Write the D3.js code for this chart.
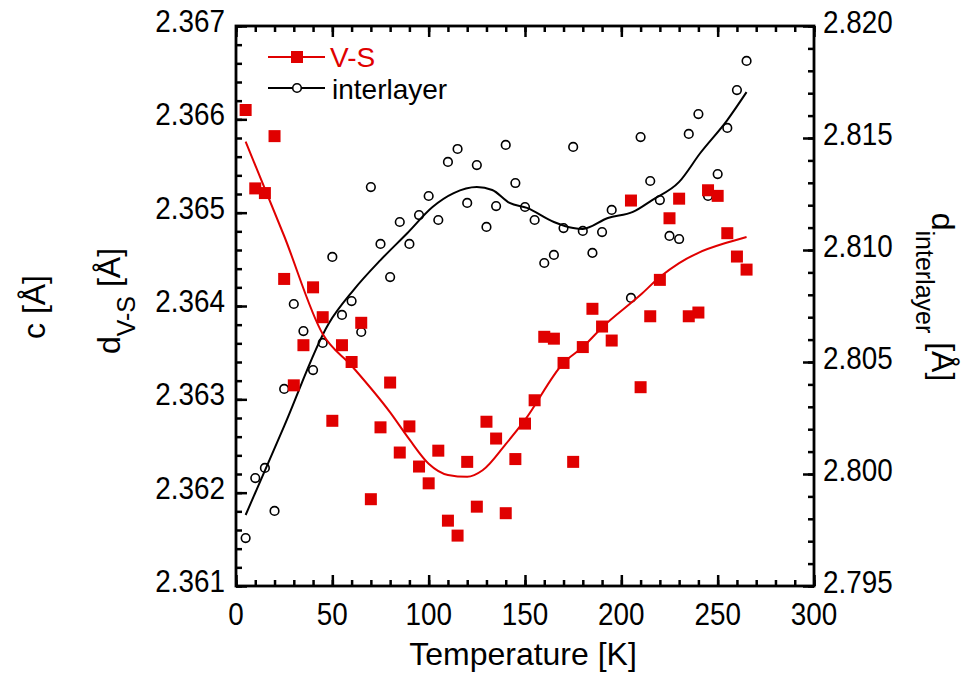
<!DOCTYPE html>
<html><head><meta charset="utf-8">
<script src="https://cdn.jsdelivr.net/npm/d3@7"></script>
<style>body{margin:0;background:#fff}svg{display:block;font-family:"Liberation Sans",Arial,sans-serif}</style>
</head><body>
<svg id="chart" width="961" height="673"></svg>
<script>
// ---- data ----
const temperature = [5,10,15,20,25,30,35,40,45,50,55,60,65,70,75,80,85,90,95,100,105,110,115,120,125,130,135,140,145,150,155,160,165,170,175,180,185,190,195,205,210,215,220,225,230,235,240,245,250,255,260,265];
const dVS = [2.36610,2.36526,2.36521,2.36582,2.36429,2.36315,2.36358,2.36420,2.36388,2.36277,2.36358,2.36340,2.36382,2.36193,2.36270,2.36318,2.36243,2.36271,2.36228,2.36210,2.36245,2.36170,2.36154,2.36233,2.36185,2.36276,2.36258,2.36178,2.36236,2.36274,2.36299,2.36367,2.36365,2.36339,2.36233,2.36356,2.36397,2.36378,2.36363,2.36513,2.36313,2.36389,2.36428,2.36494,2.36515,2.36389,2.36393,2.36524,2.36518,2.36478,2.36453,2.36439];
const dInter = [2.79714,2.79982,2.80027,2.79835,2.80380,2.80759,2.80638,2.80464,2.80585,2.80969,2.80710,2.80772,2.80634,2.81281,2.81027,2.80879,2.81125,2.81027,2.81156,2.81241,2.81134,2.81393,2.81451,2.81210,2.81379,2.81103,2.81196,2.81469,2.81299,2.81192,2.81134,2.80942,2.80978,2.81098,2.81460,2.81085,2.80987,2.81080,2.81179,2.80786,2.81504,2.81308,2.81223,2.81063,2.81049,2.81518,2.81607,2.81241,2.81339,2.81545,2.81714,2.81844];
const fitVS_T = [5,25,45,60,80,90,100,110,120,128,140,150,170,180,190,210,220,230,240,255,265];
const fitVS = [2.36576,2.36475,2.36370,2.36336,2.36286,2.36257,2.36231,2.36219,2.36217,2.36224,2.36252,2.36278,2.36339,2.36356,2.36377,2.36412,2.36431,2.36446,2.36457,2.36468,2.36474];
const fitInter_T = [5,25,48,61,75,89,102,113,125,133,142,151,165,175,180,193,206,216,230,241,255,265];
const fitInter = [2.79817,2.80214,2.80670,2.80821,2.80955,2.81076,2.81192,2.81254,2.81281,2.81268,2.81210,2.81188,2.81125,2.81098,2.81094,2.81143,2.81170,2.81223,2.81304,2.81433,2.81580,2.81705];
const xTickLabels = [0,50,100,150,200,250,300];
const leftTickLabels = [2.361,2.362,2.363,2.364,2.365,2.366,2.367];
const rightTickLabels = [2.795,2.800,2.805,2.810,2.815,2.820];
const legendLabels = ["V-S","interlayer"];

// ---- setup ----
const RED = "#e00000";
const svg = d3.select("#chart");
const M = {l:236, r:814, t:26, b:586};
const x = d3.scaleLinear().domain([0,300]).range([M.l,M.r]);
const yL = d3.scaleLinear().domain([2.361,2.367]).range([M.b,M.t]);
const yR = d3.scaleLinear().domain([2.795,2.820]).range([M.b,M.t]);

const minorX = d3.range(0,31).map(i=>i*10);
const minorL = d3.range(0,31).map(i=>2.361+i*0.0002);
const minorR = d3.range(0,26).map(i=>2.795+i*0.001);

function addAxis(axis, tr){
  const g = svg.append("g").attr("transform", tr).call(axis);
  g.select(".domain").remove();
  g.selectAll(".tick line").attr("stroke","#000").attr("stroke-width",2.5);
  g.selectAll(".tick text").remove();
}
addAxis(d3.axisBottom(x).tickValues(minorX).tickSize(-6), `translate(0,${M.b})`);
addAxis(d3.axisBottom(x).tickValues(xTickLabels).tickSize(-11), `translate(0,${M.b})`);
addAxis(d3.axisTop(x).tickValues(minorX).tickSize(-6), `translate(0,${M.t})`);
addAxis(d3.axisTop(x).tickValues(xTickLabels).tickSize(-11), `translate(0,${M.t})`);
addAxis(d3.axisLeft(yL).tickValues(minorL).tickSize(-6), `translate(${M.l},0)`);
addAxis(d3.axisLeft(yL).tickValues(leftTickLabels).tickSize(-11), `translate(${M.l},0)`);
addAxis(d3.axisRight(yR).tickValues(minorR).tickSize(-6), `translate(${M.r},0)`);
addAxis(d3.axisRight(yR).tickValues(rightTickLabels).tickSize(-11), `translate(${M.r},0)`);

svg.append("rect").attr("x",M.l).attr("y",M.t).attr("width",M.r-M.l).attr("height",M.b-M.t)
  .attr("fill","none").attr("stroke","#000").attr("stroke-width",2.8);

// tick labels
const SX = 0.87, FS = 32;
function tickText(px, py, txt, anchor){
  svg.append("text").attr("transform",`translate(${px},${py}) scale(${SX},1)`)
    .attr("text-anchor",anchor).attr("font-size",FS).attr("fill","#000").text(txt);
}
xTickLabels.forEach(v=>tickText(x(v), M.b+39, v, "middle"));
leftTickLabels.forEach(v=>tickText(M.l-11, yL(v)+6, d3.format(".3f")(v), "end"));
rightTickLabels.forEach(v=>tickText(M.r+9, yR(v)+7, d3.format(".3f")(v), "start"));

// axis titles
svg.append("text").attr("x",523).attr("y",665).attr("text-anchor","middle")
  .attr("font-size",32).text("Temperature [K]");

svg.append("text").attr("transform","translate(45,307) rotate(-90)")
  .attr("text-anchor","middle").attr("font-size",32).text("c [Å]");

const t2 = svg.append("text").attr("transform","translate(120,301) rotate(-90)")
  .attr("text-anchor","middle").attr("font-size",32);
t2.append("tspan").text("d");
t2.append("tspan").attr("font-size",25).attr("dy",15).text("V-S");
t2.append("tspan").attr("dy",-15).text(" [Å]");

const t3 = svg.append("text").attr("transform","translate(932,297) rotate(90)")
  .attr("text-anchor","middle").attr("font-size",32);
t3.append("tspan").text("d");
t3.append("tspan").attr("font-size",25).attr("dy",16).text("interlayer");
t3.append("tspan").attr("dy",-16).text(" [Å]");

// ---- lines ----
const lineL = d3.line().x(d=>x(d[0])).y(d=>yL(d[1])).curve(d3.curveMonotoneX);
const lineR = d3.line().x(d=>x(d[0])).y(d=>yR(d[1])).curve(d3.curveMonotoneX);

svg.append("path").datum(fitInter_T.map((t,i)=>[t,fitInter[i]])).attr("d",lineR)
  .attr("fill","none").attr("stroke","#000").attr("stroke-width",2);
svg.append("g").selectAll("circle").data(temperature.map((t,i)=>[t,dInter[i]])).join("circle")
  .attr("cx",d=>x(d[0])).attr("cy",d=>yR(d[1])).attr("r",4.3)
  .attr("fill","none").attr("stroke","#000").attr("stroke-width",1.6);

svg.append("path").datum(fitVS_T.map((t,i)=>[t,fitVS[i]])).attr("d",lineL)
  .attr("fill","none").attr("stroke",RED).attr("stroke-width",2);
const S = 12;
svg.append("g").selectAll("rect").data(temperature.map((t,i)=>[t,dVS[i]])).join("rect")
  .attr("x",d=>x(d[0])-S/2).attr("y",d=>yL(d[1])-S/2).attr("width",S).attr("height",S)
  .attr("fill",RED);

// ---- legend ----
const lg = svg.append("g");
lg.append("line").attr("x1",268).attr("x2",325).attr("y1",57).attr("y2",57).attr("stroke",RED).attr("stroke-width",2);
lg.append("rect").attr("x",297-S/2).attr("y",57-S/2).attr("width",S).attr("height",S).attr("fill",RED);
lg.append("text").attr("x",330).attr("y",67).attr("font-size",28).attr("fill",RED).text(legendLabels[0]);
lg.append("line").attr("x1",268).attr("x2",325).attr("y1",88).attr("y2",88).attr("stroke","#000").attr("stroke-width",2);
lg.append("circle").attr("cx",297).attr("cy",88).attr("r",4.3).attr("fill","#fff").attr("stroke","#000").attr("stroke-width",1.6);
lg.append("text").attr("x",332).attr("y",99).attr("font-size",28).attr("fill","#000").text(legendLabels[1]);
</script>
</body></html>
